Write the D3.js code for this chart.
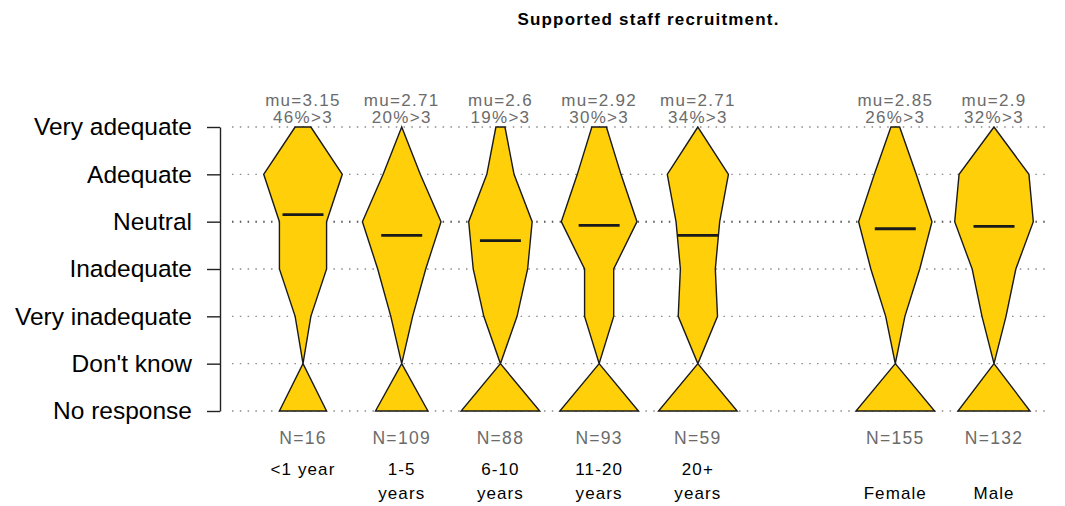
<!DOCTYPE html>
<html>
<head>
<meta charset="utf-8">
<script src="https://cdn.jsdelivr.net/npm/d3@7"></script>
<style>
  body { margin: 0; background: #fff; }
  text { font-family: "Liberation Sans", Arial, sans-serif; }
</style>
</head>
<body>
<svg id="chart" width="1065" height="506"></svg>
<script>
// Response levels, top to bottom, with the score each one sits at
const levels = ["Very adequate", "Adequate", "Neutral", "Inadequate", "Very inadequate", "Don't know", "No response"];
const levelScores = [5, 4, 3, 2, 1, 0, -1];

// Groups: label lines and horizontal slot (slot 6 is left empty as a separator)
const groupLabels = [["<1 year"], ["1-5", "years"], ["6-10", "years"], ["11-20", "years"], ["20+", "years"], ["", "Female"], ["", "Male"]];
const groupSlots = [1, 2, 3, 4, 5, 7, 8];

// Response counts per group, in the order of `levels`
const lessThan1Year = [1, 5, 3, 3, 1, 0, 3];
const years1to5 = [0, 17, 36, 22, 10, 0, 24];
const years6to10 = [3, 9, 21, 18, 11, 0, 26];
const years11to20 = [5, 15, 26, 10, 10, 0, 27];
const years20plus = [0, 14, 10, 8, 9, 0, 18];
const female = [5, 24, 42, 28, 11, 0, 45];
const male = [0, 32, 36, 20, 11, 0, 33];

// Summary labels per group
const sampleSizes = [16, 109, 88, 93, 59, 155, 132];
const means = [3.15, 2.71, 2.6, 2.92, 2.71, 2.85, 2.9];
const pctAbove3 = [46, 20, 19, 30, 34, 26, 32];

const groupCounts = [lessThan1Year, years1to5, years6to10, years11to20, years20plus, female, male];

const svg = d3.select("#chart");

const x = d3.scaleLinear().domain([1, 8]).range([303, 994]);
const y = d3.scaleLinear().domain([-1, 5]).range([411, 127]);
const maxHalfWidth = 39.3;

// Title, centred over the group slots
svg.append("text")
  .attr("x", (x(1) + x(8)) / 2)
  .attr("y", 25)
  .attr("text-anchor", "middle")
  .style("font-weight", "bold")
  .style("font-size", "17px")
  .style("letter-spacing", "1.2px")
  .text("Supported staff recruitment.");

// Dotted reference lines at every level
svg.append("g").selectAll("line")
  .data(levelScores)
  .join("line")
  .attr("x1", 232).attr("x2", 1046)
  .attr("y1", d => y(d)).attr("y2", d => y(d))
  .attr("stroke", d => d === 3 ? "#555" : "#8a8a8a")
  .attr("stroke-width", d => d === 3 ? 2 : 1.4)
  .attr("stroke-dasharray", "1.5,6.3");

// Left axis with level names
const axis = d3.axisLeft(y)
  .tickValues(levelScores)
  .tickFormat((d, i) => levels[i])
  .tickSize(13)
  .tickSizeOuter(0)
  .tickPadding(15);

const axisG = svg.append("g")
  .attr("transform", "translate(220,0)")
  .call(axis);
axisG.select(".domain").attr("stroke", "#222").attr("stroke-width", 1.4);
axisG.selectAll(".tick line").attr("stroke", "#222").attr("stroke-width", 1.4);
axisG.selectAll(".tick text")
  .attr("fill", "#000")
  .style("font-size", "24.5px")
  .style("font-family", "'Liberation Sans', Arial, sans-serif");

// Violin-style shapes: half-width proportional to each level's count
const outline = d3.line().curve(d3.curveLinearClosed);

groupCounts.forEach((counts, gi) => {
  const cx = x(groupSlots[gi]);
  const w = d3.scaleLinear().domain([0, d3.max(counts)]).range([0, maxHalfWidth]);
  const left = counts.map((c, li) => [cx - w(c), y(levelScores[li])]);
  const right = counts.map((c, li) => [cx + w(c), y(levelScores[li])]).reverse();

  const g = svg.append("g");
  g.append("path")
    .attr("d", outline(left.concat(right)))
    .attr("fill", "#FFD00A")
    .attr("stroke", "#1a1a1a")
    .attr("stroke-width", 1.4)
    .attr("stroke-linejoin", "miter");

  // Mean marker
  g.append("line")
    .attr("x1", cx - 20.5).attr("x2", cx + 20.5)
    .attr("y1", y(means[gi])).attr("y2", y(means[gi]))
    .attr("stroke", "#1a1a1a")
    .attr("stroke-width", 2.8);

  // Mean and share above neutral
  g.append("text")
    .attr("x", cx).attr("y", 106)
    .attr("text-anchor", "middle")
    .attr("fill", "#6b6b6b")
    .style("font-size", "17px")
    .style("letter-spacing", "1.3px")
    .text("mu=" + means[gi]);
  g.append("text")
    .attr("x", cx).attr("y", 123)
    .attr("text-anchor", "middle")
    .attr("fill", "#6b6b6b")
    .style("font-size", "17px")
    .style("letter-spacing", "1.3px")
    .text(pctAbove3[gi] + "%>3");

  // Sample size
  g.append("text")
    .attr("x", cx).attr("y", 444)
    .attr("text-anchor", "middle")
    .attr("fill", "#6b6b6b")
    .style("font-size", "17.5px")
    .style("letter-spacing", "1.3px")
    .text("N=" + sampleSizes[gi]);

  // Group name
  const lab = g.append("text")
    .attr("text-anchor", "middle")
    .attr("fill", "#000")
    .style("font-size", "17px")
    .style("letter-spacing", "1.1px");
  groupLabels[gi].forEach((line, k) => {
    lab.append("tspan").attr("x", cx).attr("y", 475 + k * 24).text(line);
  });
});
</script>
</body>
</html>
